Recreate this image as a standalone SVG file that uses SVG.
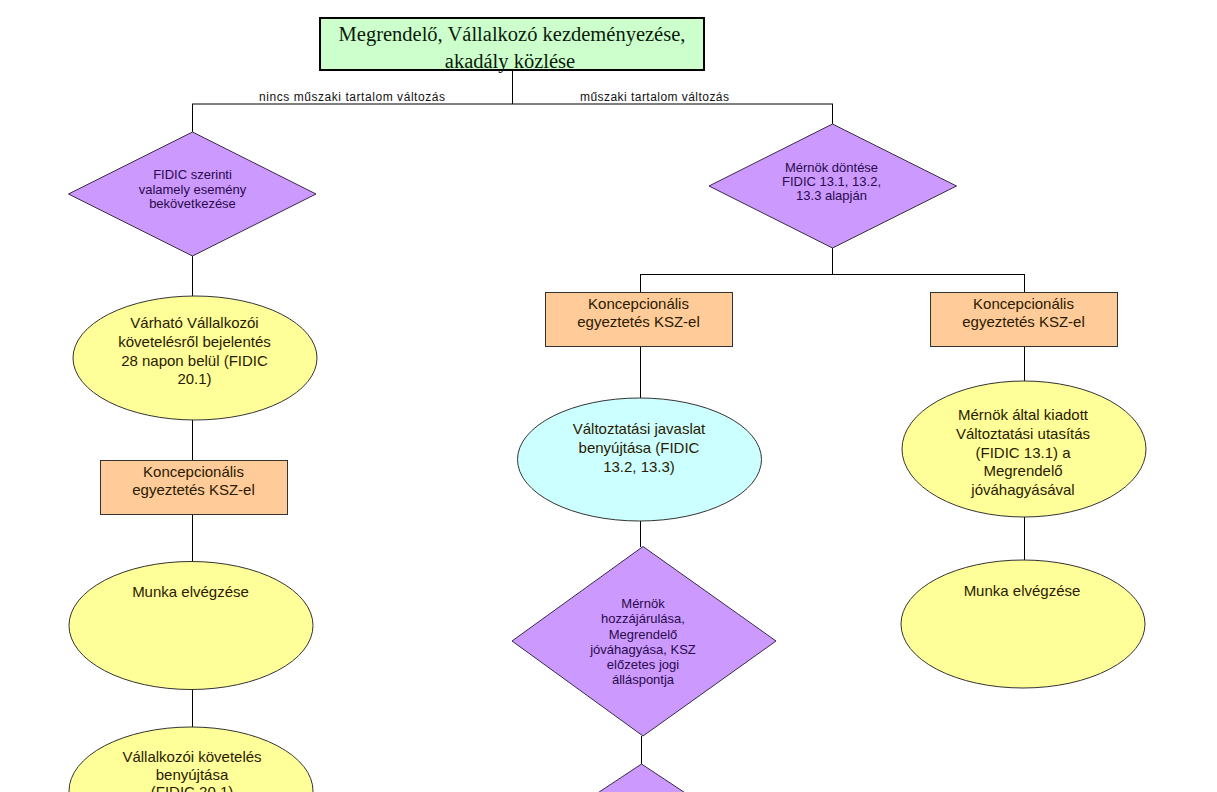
<svg xmlns="http://www.w3.org/2000/svg" width="1217" height="792" viewBox="0 0 1217 792">
<style>
.dia{fill:#cc99ff;stroke:#3a2a4a;stroke-width:1}
.ell{fill:#ffff99;stroke:#333;stroke-width:1}
.cyan{fill:#ccffff;stroke:#333;stroke-width:1}
.box{fill:#ffcc99;stroke:#333;stroke-width:1}
.t{font-family:"Liberation Sans",Arial,sans-serif;font-size:15px;fill:#2a1a00;text-anchor:middle}
.td{font-family:"Liberation Sans",Arial,sans-serif;font-size:13px;fill:#2a0a4a;text-anchor:middle}
.lbl{font-family:"Liberation Sans",Arial,sans-serif;font-size:12px;fill:#111;text-anchor:middle}
.conn line{stroke:#000;stroke-width:1}
</style>
<rect width="1217" height="792" fill="#fff"/>
<g class="conn">
<line x1="512.5" y1="70" x2="512.5" y2="104"/>
<line x1="192" y1="104" x2="833" y2="104"/>
<line x1="192.5" y1="104" x2="192.5" y2="132"/>
<line x1="832.5" y1="104" x2="832.5" y2="124"/>
<line x1="192.5" y1="256" x2="192.5" y2="296"/>
<line x1="192.5" y1="420" x2="192.5" y2="460"/>
<line x1="192.5" y1="514" x2="192.5" y2="562"/>
<line x1="192.5" y1="689" x2="192.5" y2="727"/>
<line x1="832.5" y1="248" x2="832.5" y2="274.5"/>
<line x1="640" y1="274.5" x2="1024.5" y2="274.5"/>
<line x1="640.5" y1="274" x2="640.5" y2="293"/>
<line x1="1024.5" y1="274" x2="1024.5" y2="293"/>
<line x1="640.5" y1="347" x2="640.5" y2="398"/>
<line x1="640.5" y1="521" x2="640.5" y2="547"/>
<line x1="641.5" y1="736" x2="641.5" y2="764"/>
<line x1="1024.5" y1="347" x2="1024.5" y2="381"/>
<line x1="1024.5" y1="517" x2="1024.5" y2="560"/>
<text class="lbl" x="352" y="101" textLength="186" lengthAdjust="spacing">nincs műszaki tartalom változás</text>
<text class="lbl" x="654.5" y="101" textLength="149" lengthAdjust="spacing">műszaki tartalom változás</text>
</g>
<g id="start">
<rect x="320" y="18" width="384" height="52" fill="#ccffcc" stroke="#000" stroke-width="2"/>
<text x="512" y="41" font-family="'Liberation Serif','Times New Roman',serif" font-size="20.5" fill="#0a1a0a" text-anchor="middle">Megrendelő, Vállalkozó kezdeményezése,</text>
<text x="510" y="68" font-family="'Liberation Serif','Times New Roman',serif" font-size="20.5" fill="#0a1a0a" text-anchor="middle">akadály közlése</text>
</g>
<g id="d-fidic">
<polygon class="dia" points="192.5,132 316,194 192.5,256 68.5,194"/>
<text class="td" x="192.5" y="179">FIDIC szerinti</text>
<text class="td" x="192.5" y="194">valamely esemény</text>
<text class="td" x="192.5" y="208">bekövetkezése</text>
</g>
<g id="d-mernok">
<polygon class="dia" points="832.5,124 956.5,186 832.5,248 709,186"/>
<text class="td" x="831.5" y="172">Mérnök döntése</text>
<text class="td" x="831.5" y="186">FIDIC 13.1, 13.2,</text>
<text class="td" x="831.5" y="200">13.3 alapján</text>
</g>
<g id="e-varhato">
<ellipse class="ell" cx="195" cy="358" rx="122" ry="62"/>
<text class="t" x="194.5" y="328">Várható Vállalkozói</text>
<text class="t" x="194.5" y="347">követelésről bejelentés</text>
<text class="t" x="194.5" y="366">28 napon belül (FIDIC</text>
<text class="t" x="194.5" y="384">20.1)</text>
</g>
<g id="b-left">
<rect class="box" x="100.5" y="460.5" width="187" height="54"/>
<text class="t" x="193.5" y="477">Koncepcionális</text>
<text class="t" x="193.5" y="495">egyeztetés KSZ-el</text>
</g>
<g id="e-munka-left">
<ellipse class="ell" cx="191" cy="625.5" rx="122" ry="64"/>
<text class="t" x="190.5" y="597">Munka elvégzése</text>
</g>
<g id="e-benyujtas">
<ellipse class="ell" cx="191" cy="791" rx="122" ry="64"/>
<text class="t" x="192" y="762">Vállalkozói követelés</text>
<text class="t" x="192" y="779.5">benyújtása</text>
<text class="t" x="192" y="797">(FIDIC 20.1)</text>
</g>
<g id="b-mid">
<rect class="box" x="545.5" y="292.5" width="187" height="54"/>
<text class="t" x="638.5" y="309">Koncepcionális</text>
<text class="t" x="638.5" y="327">egyeztetés KSZ-el</text>
</g>
<g id="b-right">
<rect class="box" x="930.5" y="292.5" width="187" height="54"/>
<text class="t" x="1023.5" y="309">Koncepcionális</text>
<text class="t" x="1023.5" y="327">egyeztetés KSZ-el</text>
</g>
<g id="e-javaslat">
<ellipse class="cyan" cx="639.5" cy="459.5" rx="122" ry="61.5"/>
<text class="t" x="639" y="434">Változtatási javaslat</text>
<text class="t" x="639" y="453">benyújtása (FIDIC</text>
<text class="t" x="639" y="472">13.2, 13.3)</text>
</g>
<g id="d-hozzajarulas">
<polygon class="dia" points="643,546.5 776,641 643,736 512,641"/>
<text class="td" x="643" y="608">Mérnök</text>
<text class="td" x="643" y="623">hozzájárulása,</text>
<text class="td" x="643" y="638.5">Megrendelő</text>
<text class="td" x="643" y="653.5">jóváhagyása, KSZ</text>
<text class="td" x="643" y="669">előzetes jogi</text>
<text class="td" x="643" y="684">álláspontja</text>
</g>
<g id="d-next">
<polygon class="dia" points="641.5,764 785,859 641.5,954 498,859"/>
</g>
<g id="e-utasitas">
<ellipse class="ell" cx="1024" cy="449" rx="122" ry="68"/>
<text class="t" x="1023" y="420">Mérnök által kiadott</text>
<text class="t" x="1023" y="439">Változtatási utasítás</text>
<text class="t" x="1023" y="457.5">(FIDIC 13.1) a</text>
<text class="t" x="1023" y="476">Megrendelő</text>
<text class="t" x="1023" y="495">jóváhagyásával</text>
</g>
<g id="e-munka-right">
<ellipse class="ell" cx="1023" cy="624" rx="122" ry="64"/>
<text class="t" x="1022" y="596">Munka elvégzése</text>
</g>
</svg>
